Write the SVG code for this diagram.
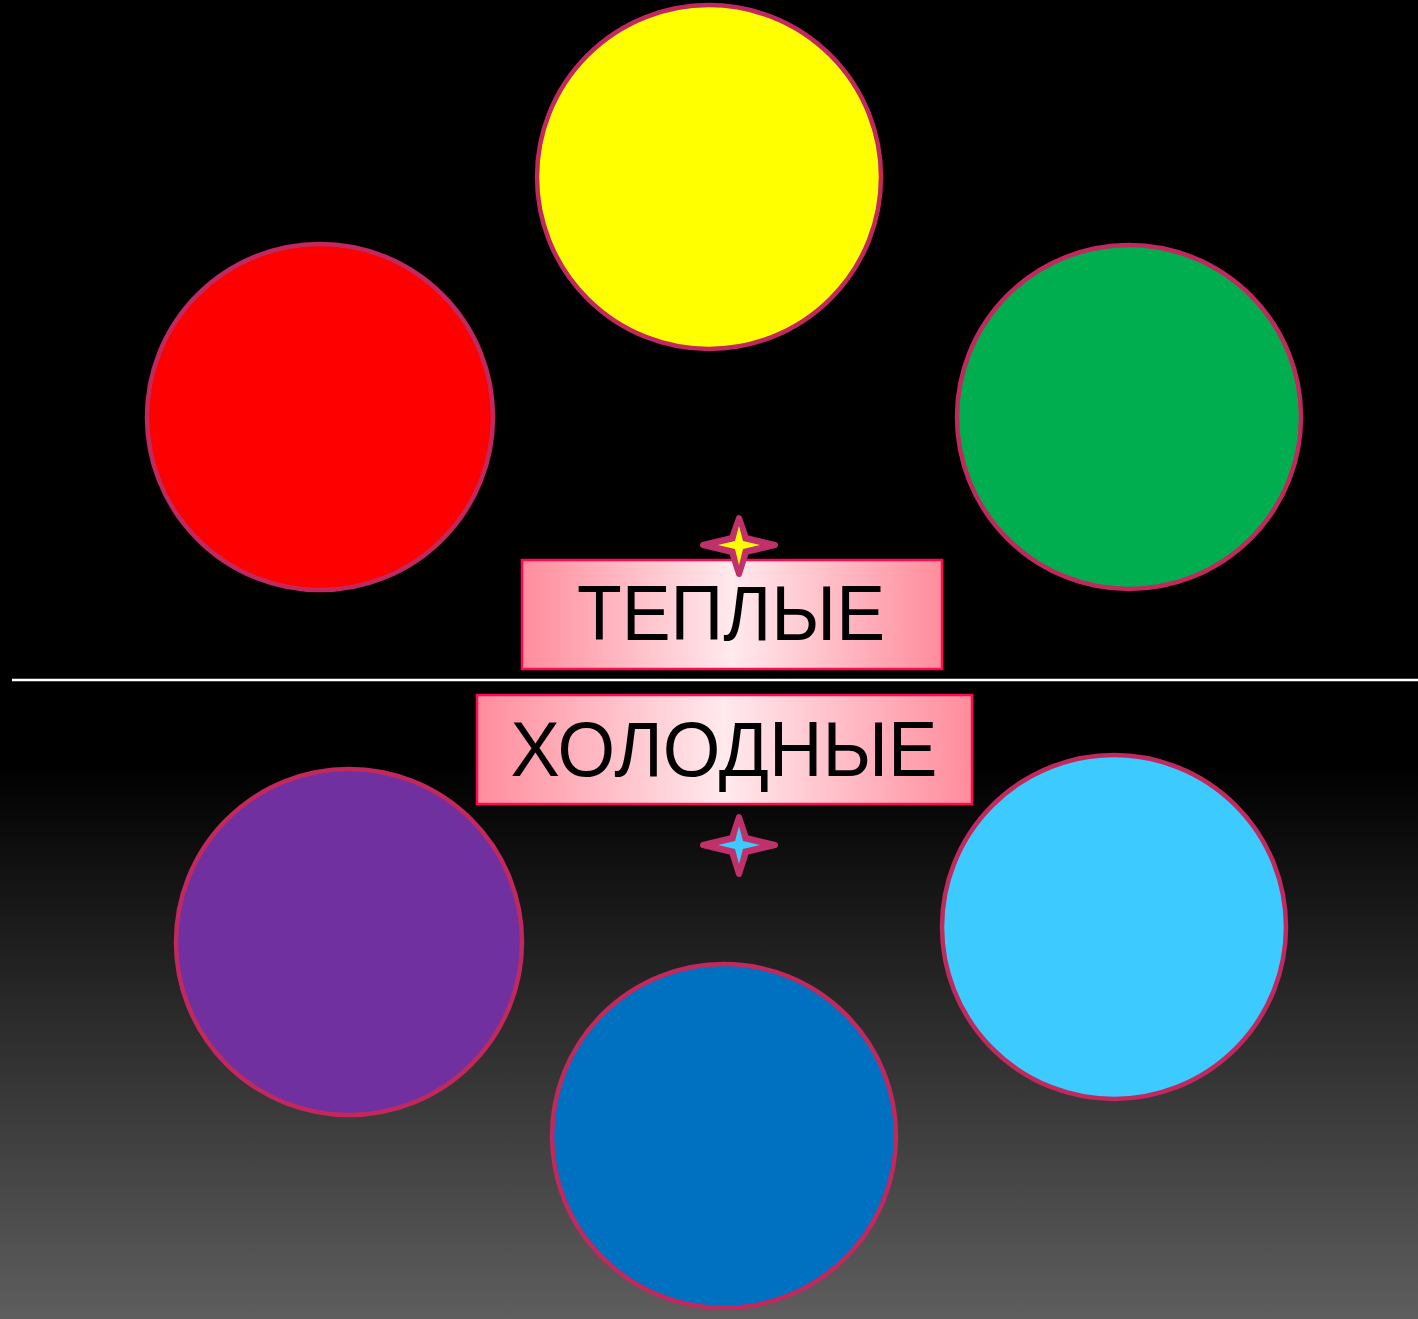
<svg xmlns="http://www.w3.org/2000/svg" width="1418" height="1319" viewBox="0 0 1418 1319">
<defs>
<linearGradient id="bg" x1="0" y1="0" x2="0" y2="1">
<stop offset="0" stop-color="#000"/>
<stop offset="0.58" stop-color="#000"/>
<stop offset="1" stop-color="#5e5e5e"/>
</linearGradient>
<linearGradient id="lab" x1="0" y1="0" x2="1" y2="0">
<stop offset="0" stop-color="#ff8c9c"/>
<stop offset="0.5" stop-color="#ffeaee"/>
<stop offset="1" stop-color="#ff8c9c"/>
</linearGradient>
<style>
.c{stroke:#c0285e;stroke-width:4.5}
.lb{fill:url(#lab);stroke:#ff0a50;stroke-width:2.5}
.t{font-family:"Liberation Sans",Arial,sans-serif;font-size:77px;fill:#000;text-anchor:middle}
.so{fill:#c0306a;stroke:#c0306a;stroke-width:6;stroke-linejoin:round}
</style>
</defs>
<rect width="1418" height="1319" fill="url(#bg)"/>
<g id="connectors">
<line x1="12" y1="680" x2="1418" y2="680" stroke="#fff" stroke-width="2.5"/>
</g>
<g id="yellow"><circle class="c" cx="709" cy="177" r="172" fill="#ffff00"/></g>
<g id="red"><circle class="c" cx="320" cy="417" r="173" fill="#ff0000"/></g>
<g id="green"><circle class="c" cx="1129" cy="417" r="172" fill="#00ae4f"/></g>
<g id="purple"><circle class="c" cx="349" cy="942" r="173" fill="#7030a0"/></g>
<g id="lightblue"><circle class="c" cx="1114" cy="927" r="172" fill="#3ccaff"/></g>
<g id="blue"><circle class="c" cx="724" cy="1136" r="172" fill="#0070c0"/></g>
<g id="warm">
<rect class="lb" x="522" y="560" width="420" height="109"/>
<text class="t" x="731" y="640" textLength="308" lengthAdjust="spacingAndGlyphs">ТЕПЛЫЕ</text>
</g>
<g id="cold">
<rect class="lb" x="477" y="695" width="495" height="109"/>
<text class="t" x="724" y="776" textLength="427" lengthAdjust="spacingAndGlyphs">ХОЛОДНЫЕ</text>
</g>
<g id="star-warm">
<polygon class="so" points="739,518 746,538 775,545 746,552 739,574 732,552 703,545 732,538"/>
<polygon points="739,526 743,541 760,545 743,549 739,565 735,549 718,545 735,541" fill="#ffff00"/>
</g>
<g id="star-cold">
<polygon class="so" points="739,817 746,838 775,845 746,852 739,874 732,852 703,845 732,838"/>
<polygon points="739,826 743,841 760,845 743,849 739,864 735,849 718,845 735,841" fill="#3ccaff"/>
</g>
</svg>
